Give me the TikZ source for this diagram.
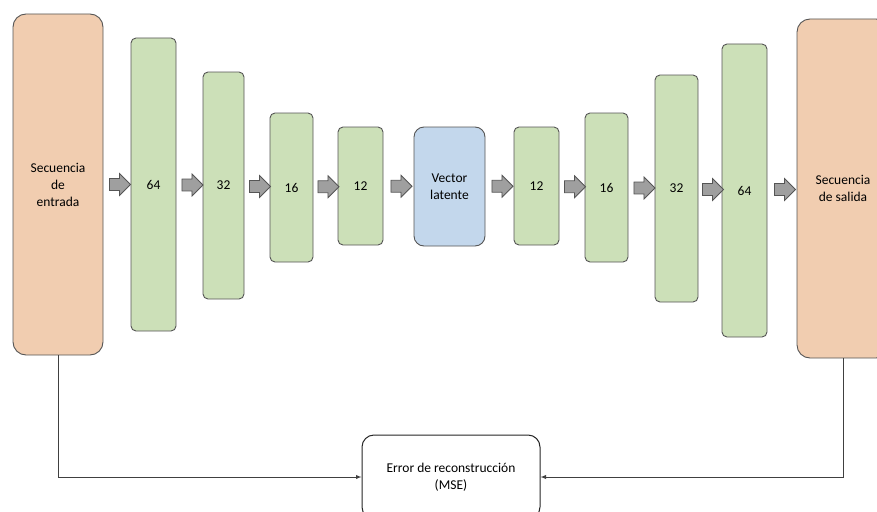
\documentclass[tikz,border=0pt]{standalone}
\usepackage{fontspec}
\setmainfont{Carlito}
\usepackage{xcolor}
\usepackage{tikz}
\usetikzlibrary{shapes}
\usetikzlibrary{arrows}
\usetikzlibrary{calc}
\definecolor{seqfill}{HTML}{F1CDB0}
\definecolor{layerfill}{HTML}{CCE0B8}
\definecolor{latentfill}{HTML}{C3D7EC}
\definecolor{edgegray}{HTML}{555555}
\tikzset{
	box/.style={draw=edgegray,line width=0.9pt,inner sep=0pt,align=center,
		font=\fontsize{13.5}{17}\selectfont},
	seq node/.style={box,fill=seqfill,rounded corners=13pt},
	layer node/.style={box,fill=layerfill,rounded corners=5pt},
	latent node/.style={box,fill=latentfill,rounded corners=10pt},
	error node/.style={box,fill=white,rounded corners=12pt,line width=1pt,draw=black!85},
	flow arrow/.style={single arrow,draw=edgegray,fill=gray!75,line width=0.8pt,
		minimum height=21pt,minimum width=22pt,inner sep=5.5pt,single arrow head extend=5pt}
}

\begin{document}
\begin{tikzpicture}[x=1pt,y=-1pt,>=latex]
	\useasboundingbox (0,0) rectangle (877,511);
	% encoder
	\node [seq node,minimum width=90pt,minimum height=341pt] (in) at (58,184.5) {Secuencia\\de\\entrada};
	\node [layer node,minimum width=45pt,minimum height=293pt] (e1) at (153.5,184.5) {64};
	\node [layer node,minimum width=41pt,minimum height=227pt] (e2) at (223.5,185.5) {32};
	\node [layer node,minimum width=43pt,minimum height=149pt] (e3) at (291.5,187.5) {16};
	\node [layer node,minimum width=45pt,minimum height=118pt] (e4) at (360.5,186) {12};
	% latent space
	\node [latent node,minimum width=71pt,minimum height=119pt] (lat) at (449.5,186.5) {Vector\\latente};
	% decoder
	\node [layer node,minimum width=45pt,minimum height=118pt] (d4) at (536.5,186) {12};
	\node [layer node,minimum width=43pt,minimum height=149pt] (d3) at (606.5,187.5) {16};
	\node [layer node,minimum width=43pt,minimum height=227pt] (d2) at (676.5,188.5) {32};
	\node [layer node,minimum width=45pt,minimum height=293pt] (d1) at (744.5,190.5) {64};
	\node [seq node,minimum width=92pt,minimum height=339pt] (out) at (843,188.5) {Secuencia\\de salida};
	% loss
	\node [error node,minimum width=178pt,minimum height=84pt] (err) at (451,477) {Error de reconstrucción\\(MSE)};

	\foreach \a/\b in {in/e1,e1/e2,e2/e3,e3/e4,e4/lat,lat/d4,d4/d3,d3/d2,d2/d1,d1/out}
		\node [flow arrow] at ($(\a.east)!0.5!(\b.west)$ |- 0,187) {};

	\draw [->,draw=black!75,line width=0.9pt] (in.south) |- (err.west);
	\draw [->,draw=black!75,line width=0.9pt] (out.south) |- (err.east);
\end{tikzpicture}
\end{document}
